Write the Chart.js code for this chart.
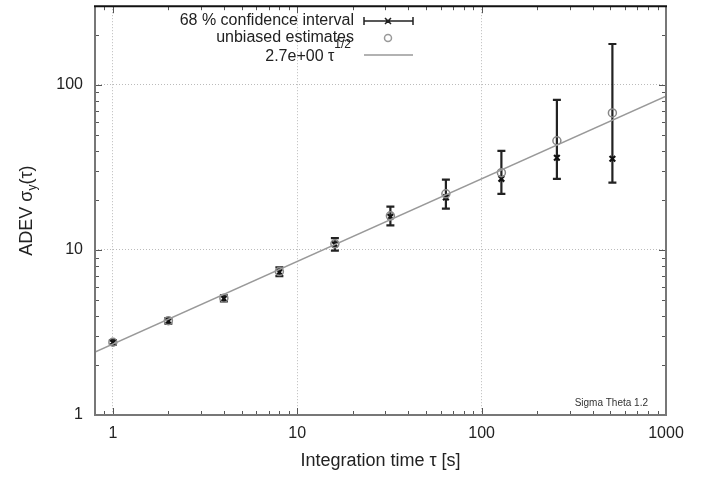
<!DOCTYPE html>
<html>
<head>
<meta charset="utf-8">
<script src="https://cdn.jsdelivr.net/npm/chart.js@4.4.1/dist/chart.umd.min.js"></script>
<style>
  body { margin: 0; background: #fff; }
  canvas { display: block; }
</style>
</head>
<body>
<canvas id="adevChart" width="715" height="477"></canvas>
<script>
// integration times and ADEV values
const taus = [1, 2, 4, 8, 16, 32, 64, 128, 256, 512];
const adev = [2.75, 3.71, 5.07, 7.34, 10.8, 15.9, 20.8, 27.0, 36.2, 35.7];
const adevLow = [2.67, 3.58, 4.88, 6.95, 9.9, 14.1, 17.8, 21.9, 27.0, 25.6];
const adevHigh = [2.84, 3.86, 5.3, 7.85, 11.8, 18.3, 26.7, 39.9, 81.2, 177];
const unbiased = [2.76, 3.73, 5.1, 7.4, 10.9, 16.1, 21.9, 29.4, 45.9, 67.7];
const fitTau = [0.8, 1000];
const fitAdev = [2.41, 85.4];
const xTicks = [1, 10, 100, 1000];
const yTicks = [1, 10, 100];

const FONT = '"Liberation Sans", Arial, sans-serif';
const TEXT = '#222';

const errorBars = {
    id: 'errorBars',
    beforeDatasetsDraw(chart) {
        const { ctx, scales: { x, y } } = chart;
        ctx.save();
        ctx.strokeStyle = '#222';
        ctx.lineWidth = 2.2;
        taus.forEach((t, i) => {
            const px = x.getPixelForValue(t);
            const lo = y.getPixelForValue(adevLow[i]);
            const hi = y.getPixelForValue(adevHigh[i]);
            ctx.beginPath();
            ctx.moveTo(px, lo); ctx.lineTo(px, hi);
            ctx.moveTo(px - 4, lo); ctx.lineTo(px + 4, lo);
            ctx.moveTo(px - 4, hi); ctx.lineTo(px + 4, hi);
            ctx.stroke();
        });
        ctx.restore();
    }
};

// gnuplot style frame with inward ticks, titles and legend
const decor = {
    id: 'decor',
    afterDraw(chart) {
        const { ctx, chartArea: a, scales: { x, y } } = chart;
        ctx.save();

        // ticks
        ctx.strokeStyle = '#555';
        ctx.lineWidth = 1;
        ctx.beginPath();
        [0.1, 1, 10, 100].forEach(d => {
            for (let k = 1; k <= 9; k++) {
                const v = k * d;
                if (v < x.min || v > x.max) continue;
                const px = Math.round(x.getPixelForValue(v)) + 0.5;
                const len = k === 1 ? 7 : 4;
                ctx.moveTo(px, a.bottom); ctx.lineTo(px, a.bottom - len);
                ctx.moveTo(px, a.top); ctx.lineTo(px, a.top + len);
            }
        });
        [1, 10, 100].forEach(d => {
            for (let k = 1; k <= 9; k++) {
                const v = k * d;
                if (v < y.min || v > y.max) continue;
                const py = Math.round(y.getPixelForValue(v)) + 0.5;
                const len = k === 1 ? 7 : 4;
                ctx.moveTo(a.left, py); ctx.lineTo(a.left + len, py);
                ctx.moveTo(a.right, py); ctx.lineTo(a.right - len, py);
            }
        });
        ctx.stroke();

        // frame
        ctx.lineWidth = 2;
        ctx.strokeStyle = '#777';
        ctx.beginPath();
        ctx.moveTo(a.left, a.top);
        ctx.lineTo(a.left, a.bottom);
        ctx.lineTo(a.right, a.bottom);
        ctx.lineTo(a.right, a.top);
        ctx.stroke();
        ctx.strokeStyle = '#111';
        ctx.beginPath();
        ctx.moveTo(a.left - 1, a.top); ctx.lineTo(a.right + 1, a.top);
        ctx.stroke();

        // axis titles
        ctx.fillStyle = TEXT;
        ctx.textBaseline = 'middle';
        ctx.font = '18px ' + FONT;
        ctx.textAlign = 'center';
        ctx.fillText('Integration time τ [s]', (a.left + a.right) / 2, 461);

        ctx.save();
        ctx.translate(27, (a.top + a.bottom) / 2);
        ctx.rotate(-Math.PI / 2);
        const p1 = 'ADEV σ', p2 = 'y', p3 = '(τ)';
        ctx.font = '18px ' + FONT;
        const w1 = ctx.measureText(p1).width;
        const w3 = ctx.measureText(p3).width;
        ctx.font = '12px ' + FONT;
        const w2 = ctx.measureText(p2).width;
        let sx = -(w1 + w2 + w3) / 2;
        ctx.textAlign = 'left';
        ctx.font = '18px ' + FONT;
        ctx.fillText(p1, sx, 0);
        ctx.font = '12px ' + FONT;
        ctx.fillText(p2, sx + w1, 6);
        ctx.font = '18px ' + FONT;
        ctx.fillText(p3, sx + w1 + w2, 0);
        ctx.restore();

        // legend
        ctx.textAlign = 'right';
        ctx.font = '16px ' + FONT;
        ctx.fillText('68 % confidence interval', 354, 21);
        ctx.fillText('unbiased estimates', 354, 38);
        ctx.font = '12px ' + FONT;
        const sup = '1/2';
        const ws = ctx.measureText(sup).width;
        ctx.fillText(sup, 351, 45);
        ctx.font = '16px ' + FONT;
        ctx.fillText('2.7e+00 τ', 351 - ws, 57);

        ctx.strokeStyle = '#222';
        ctx.lineWidth = 1.5;
        ctx.beginPath();
        ctx.moveTo(364, 21); ctx.lineTo(413, 21);
        ctx.moveTo(364, 17); ctx.lineTo(364, 25);
        ctx.moveTo(413, 17); ctx.lineTo(413, 25);
        ctx.moveTo(385, 18); ctx.lineTo(391, 24);
        ctx.moveTo(391, 18); ctx.lineTo(385, 24);
        ctx.stroke();
        ctx.strokeStyle = '#999';
        ctx.beginPath();
        ctx.arc(388, 38, 3.5, 0, Math.PI * 2);
        ctx.stroke();
        ctx.beginPath();
        ctx.moveTo(364, 55); ctx.lineTo(413, 55);
        ctx.stroke();

        // version tag
        ctx.fillStyle = '#333';
        ctx.textAlign = 'right';
        ctx.font = '10px ' + FONT;
        ctx.fillText('Sigma Theta 1.2', 648, 403);

        ctx.restore();
    }
};

const noPad = scale => {
    scale.paddingTop = 0;
    scale.paddingBottom = 0;
    scale.paddingLeft = 0;
    scale.paddingRight = 0;
};

const ctx = document.getElementById('adevChart').getContext('2d');
new Chart(ctx, {
    type: 'scatter',
    data: {
        datasets: [{
            label: '2.7e+00 τ^1/2',
            data: fitTau.map((t, i) => ({ x: t, y: fitAdev[i] })),
            showLine: true,
            borderColor: '#999',
            borderWidth: 1.5,
            pointRadius: 0
        }, {
            label: 'unbiased estimates',
            data: taus.map((t, i) => ({ x: t, y: unbiased[i] })),
            pointStyle: 'circle',
            pointRadius: 4,
            borderColor: '#888',
            backgroundColor: 'rgba(0,0,0,0)',
            borderWidth: 1.5
        }, {
            label: '68 % confidence interval',
            data: taus.map((t, i) => ({ x: t, y: adev[i] })),
            pointStyle: 'crossRot',
            pointRadius: 4,
            borderColor: '#111',
            borderWidth: 2.2
        }]
    },
    options: {
        responsive: false,
        animation: false,
        layout: { padding: { left: 0, right: 49, top: 6, bottom: 0 } },
        plugins: {
            legend: { display: false },
            tooltip: { enabled: false }
        },
        scales: {
            x: {
                type: 'logarithmic',
                min: 0.8,
                max: 1000,
                afterBuildTicks: scale => { scale.ticks = xTicks.map(v => ({ value: v })); },
                afterFit: scale => { scale.height = 62; noPad(scale); },
                ticks: {
                    color: TEXT,
                    font: { family: FONT, size: 16 },
                    padding: 9,
                    maxRotation: 0,
                    callback: v => String(v)
                },
                grid: { color: '#bbb', lineWidth: 1, drawTicks: false },
                border: { display: false, dash: [1, 2] }
            },
            y: {
                type: 'logarithmic',
                min: 1,
                max: 300,
                afterBuildTicks: scale => { scale.ticks = yTicks.map(v => ({ value: v })); },
                afterFit: scale => { scale.width = 95; noPad(scale); },
                ticks: {
                    color: TEXT,
                    font: { family: FONT, size: 16 },
                    padding: 12,
                    callback: v => String(v)
                },
                grid: { color: '#bbb', lineWidth: 1, drawTicks: false },
                border: { display: false, dash: [1, 2] }
            }
        }
    },
    plugins: [errorBars, decor]
});
</script>
</body>
</html>
